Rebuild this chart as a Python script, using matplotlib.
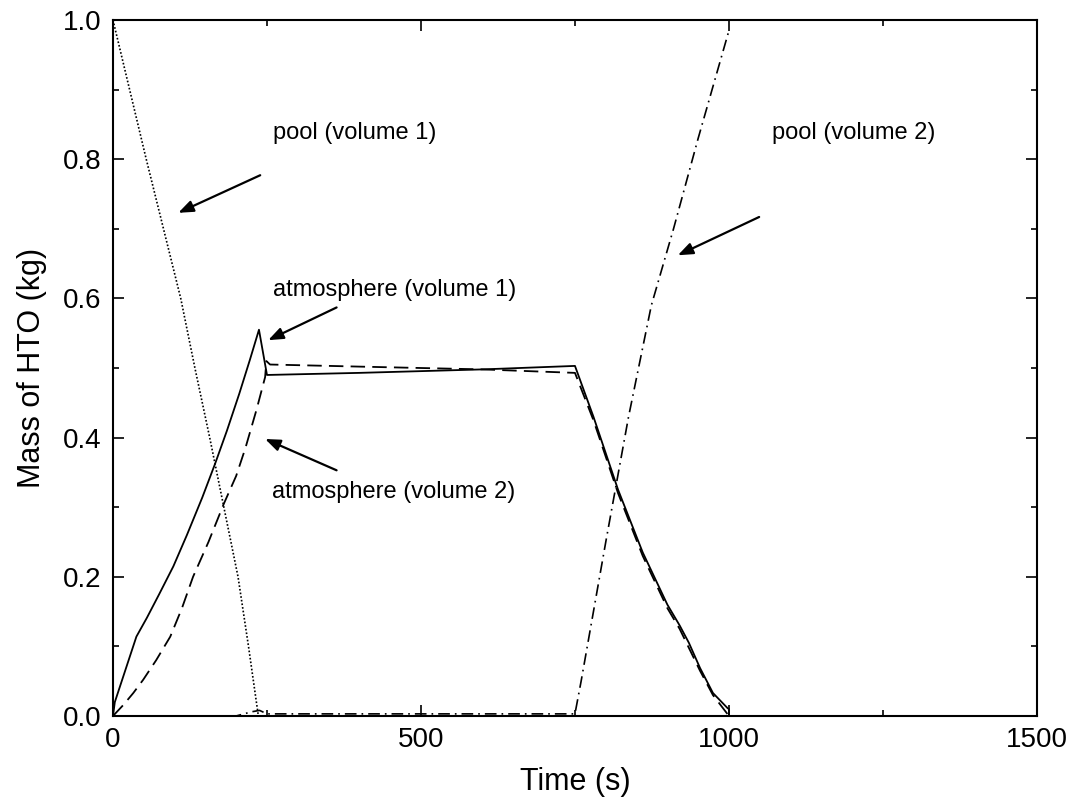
import matplotlib
matplotlib.use("Agg")
import matplotlib.pyplot as plt
from matplotlib.ticker import MultipleLocator

plt.rcParams['font.family'] = ['Liberation Sans', 'DejaVu Sans']

# atmosphere (volume 1) - solid
atm1_t = [0, 3, 38, 55, 75, 98, 120, 145, 166, 185, 205, 222, 237, 250, 400, 600, 750,
          780, 820, 860, 900, 920, 935, 953, 974, 998, 1000, 1000]
atm1_v = [0, 0.02, 0.114, 0.141, 0.175, 0.215, 0.26, 0.314, 0.363, 0.41, 0.463, 0.511, 0.555, 0.490,
          0.493, 0.498, 0.503,
          0.43, 0.325, 0.235, 0.16, 0.13, 0.105, 0.069, 0.033, 0.011, 0.01, 0]

# atmosphere (volume 2) - dashed
atm2_t = [0, 17, 33, 49, 70, 93, 112, 130, 155, 180, 200, 215, 233, 247, 249, 255, 400, 600, 750,
          780, 820, 860, 900, 920, 953, 974, 1000]
atm2_v = [0, 0.016, 0.033, 0.052, 0.08, 0.114, 0.155, 0.2, 0.25, 0.305, 0.345, 0.385, 0.44, 0.487,
          0.51, 0.505, 0.502, 0.498, 0.493,
          0.425, 0.32, 0.23, 0.155, 0.125, 0.065, 0.03, 0.0]

# pool (volume 1) - dotted
pool1_t = [0, 27, 54, 82, 110, 133, 157, 180, 203, 220, 236, 1000]
pool1_v = [1.0, 0.9, 0.8, 0.7, 0.6, 0.5, 0.4, 0.3, 0.2, 0.1, 0.0, 0.0]

# pool (volume 2) - dash-dot
pool2_t = [0, 200, 225, 238, 250, 750, 760, 800, 837, 874, 910, 950, 1000]
pool2_v = [0, 0, 0.006, 0.008, 0.003, 0.003, 0.05, 0.25, 0.43, 0.59, 0.70, 0.83, 0.985]

fig = plt.figure(figsize=(10.74, 8.08), dpi=100)
ax = fig.add_axes([0.1052, 0.1139, 0.8603, 0.8613])

ax.plot(atm1_t, atm1_v, color='black', lw=1.3, ls='-')
ax.plot(atm2_t, atm2_v, color='black', lw=1.3, ls=(0, (8, 4)))
ax.plot(pool1_t, pool1_v, color='black', lw=1.2, ls=(0, (1, 1.2)))
ax.plot(pool2_t, pool2_v, color='black', lw=1.2, ls=(0, (7, 3, 1, 3)))

ax.set_xlim(0, 1500)
ax.set_ylim(0, 1.0)
ax.xaxis.set_major_locator(MultipleLocator(500))
ax.xaxis.set_minor_locator(MultipleLocator(250))
ax.yaxis.set_major_locator(MultipleLocator(0.2))
ax.yaxis.set_minor_locator(MultipleLocator(0.1))
ax.yaxis.set_major_formatter(matplotlib.ticker.FormatStrFormatter('%.1f'))
ax.tick_params(which='both', direction='in', top=True, right=True, labelsize=20, width=1.2)
ax.tick_params(which='major', length=8, pad=8)
ax.tick_params(which='minor', length=4)
for s in ax.spines.values():
    s.set_linewidth(1.5)

ax.set_xlabel("Time (s)", fontsize=22, labelpad=10)
ax.set_ylabel("Mass of HTO (kg)", fontsize=22, labelpad=12)

#etiquetas con flechas
arrow = dict(arrowstyle="-|>,head_length=0.9,head_width=0.35", color='black', lw=1.6, shrinkA=0, shrinkB=0)
ax.text(260, 0.838, "pool (volume 1)", fontsize=17, va='center')
ax.annotate("", xy=(106, 0.723), xytext=(239, 0.777), arrowprops=arrow)
ax.text(1070, 0.838, "pool (volume 2)", fontsize=17, va='center')
ax.annotate("", xy=(917, 0.662), xytext=(1049, 0.717), arrowprops=arrow)
ax.text(260, 0.612, "atmosphere (volume 1)", fontsize=17, va='center')
ax.annotate("", xy=(252, 0.540), xytext=(363, 0.587), arrowprops=arrow)
ax.text(258, 0.322, "atmosphere (volume 2)", fontsize=17, va='center')
ax.annotate("", xy=(247, 0.398), xytext=(363, 0.353), arrowprops=arrow)

plt.savefig("out.png", dpi=100)
